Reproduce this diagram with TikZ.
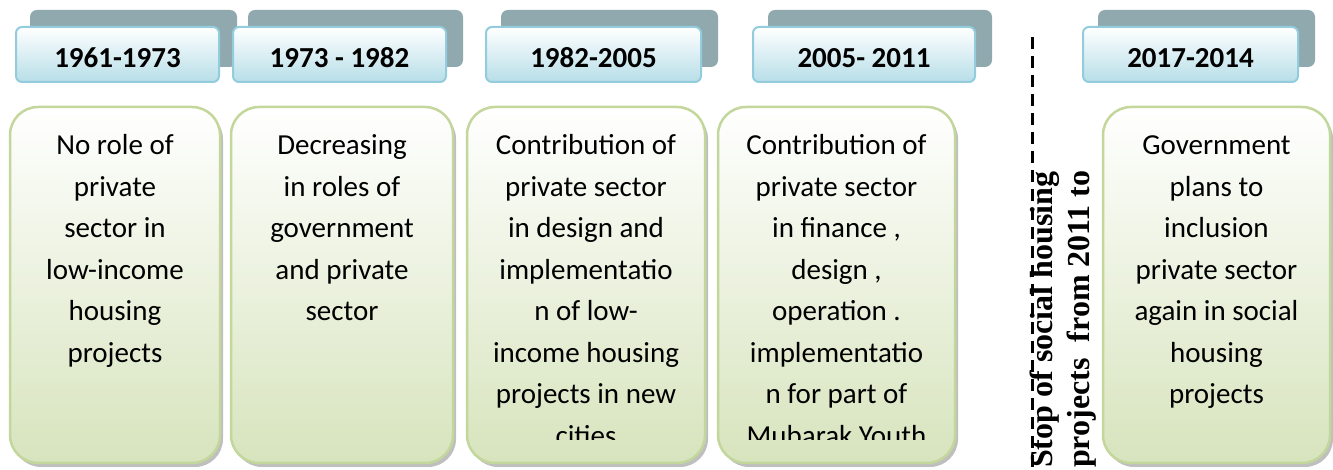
\documentclass[tikz,border=0pt]{standalone}
\usepackage{fontspec}
\setmainfont{Carlito}
\newfontfamily\stopfont{Liberation Serif}
\usetikzlibrary{calc}

\definecolor{yearedge}{HTML}{93CDDD}
\definecolor{yearfill}{HTML}{B7DEE8}
\definecolor{yearshade}{HTML}{8FA9AF}
\definecolor{phaseedge}{HTML}{C3D69B}
\definecolor{phasefill}{HTML}{D7E4BD}

\tikzset{
  yearbox/.style={draw=yearedge, line width=2pt, rounded corners=6pt, top color=white, bottom color=yearfill,
    minimum height=55pt, inner sep=0pt, text height=27pt, text depth=0pt, font=\fontsize{29}{34}\selectfont\bfseries},
  yearback/.style={fill=yearshade, rounded corners=7pt, minimum height=57pt, inner sep=0pt},
  phasebox/.style={draw=phaseedge, line width=2.5pt, rounded corners=28pt, top color=white, bottom color=phasefill,
    minimum height=356pt, inner sep=0pt},
  phaseshadow/.style={fill=black!25, rounded corners=28pt, minimum height=356pt, inner sep=0pt},
  phasetext/.style={anchor=base, inner sep=0pt, font=\fontsize{29}{41.5}\selectfont},
}

\begin{document}
\begin{tikzpicture}[x=1pt, y=1pt]
            \useasboundingbox (0,0) rectangle (1333,470);

            % Draw back plates of the year tabs
            \node[yearback, minimum width=207pt] (y1b) at (133.5,431.5) {};
            \node[yearback, minimum width=215pt] (y2b) at (355.5,431.5) {};
            \node[yearback, minimum width=217pt] (y3b) at (609.5,431.5) {};
            \node[yearback, minimum width=224pt] (y4b) at (880,431.5) {};
            \node[yearback, minimum width=217pt] (y5b) at (1206.5,431.5) {};

            % Draw year tabs
            \node[yearbox, minimum width=203pt] (y1) at (117.5,415.5) {1961-1973};
            \node[yearbox, minimum width=213pt] (y2) at (339.5,415.5) {1973 - 1982};
            \node[yearbox, minimum width=215pt] (y3) at (593.5,415.5) {1982-2005};
            \node[yearbox, minimum width=222pt] (y4) at (864,415.5) {2005- 2011};
            \node[yearbox, minimum width=215pt] (y5) at (1190.5,415.5) {2017-2014};

            % Draw shadows of the phase boxes
            \node[phaseshadow, minimum width=210pt] (s1) at (118,181) {};
            \node[phaseshadow, minimum width=222pt] (s2) at (345,181) {};
            \node[phaseshadow, minimum width=238pt] (s3) at (589,181) {};
            \node[phaseshadow, minimum width=237pt] (s4) at (839.5,181) {};
            \node[phaseshadow, minimum width=227pt] (s5) at (1219.5,181) {};

            % Draw phase boxes
            \node[phasebox, minimum width=210pt] (b1) at (115,185) {};
            \node[phasebox, minimum width=222pt] (b2) at (342,185) {};
            \node[phasebox, minimum width=238pt] (b3) at (586,185) {};
            \node[phasebox, minimum width=237pt] (b4) at (836.5,185) {};
            \node[phasebox, minimum width=227pt] (b5) at (1216.5,185) {};

            % Draw phase texts, cut at the bottom
            \begin{scope}
              \clip (0,30) rectangle (1333,470);
              \node[phasetext] (t1) at (b1 |- 0,315) {\parbox[t]{200pt}{\centering No role of\\ private\\ sector in\\ low-income\\ housing\\ projects}};
              \node[phasetext] (t2) at (b2 |- 0,315) {\parbox[t]{210pt}{\centering Decreasing\\ in roles of\\ government\\ and private\\ sector}};
              \node[phasetext] (t3) at (b3 |- 0,315) {\parbox[t]{230pt}{\centering Contribution of\\ private sector\\ in design and\\ implementatio\\ n of low-\\ income housing\\ projects in new\\ cities}};
              \node[phasetext] (t4) at (b4 |- 0,315) {\parbox[t]{230pt}{\centering Contribution of\\ private sector\\ in finance ,\\ design ,\\ operation .\\ implementatio\\ n for part of\\ Mubarak Youth}};
              \node[phasetext] (t5) at (b5 |- 0,315) {\parbox[t]{220pt}{\centering Government\\ plans to\\ inclusion\\ private sector\\ again in social\\ housing\\ projects}};
            \end{scope}

            % Draw stop line
            \coordinate (stoptop) at (1032,433);
            \coordinate (stopbot) at (1032,3);
            \draw[line width=3pt, dash pattern=on 12pt off 7pt] (stoptop) -- (stopbot);
            \node[rotate=90, anchor=north west, inner sep=0pt, align=left,
              font=\stopfont\bfseries\fontsize{32}{37}\selectfont] (stop) at (1030,2)
              {Stop of social housing\\ projects~~from 2011 to};
\end{tikzpicture}
\end{document}
